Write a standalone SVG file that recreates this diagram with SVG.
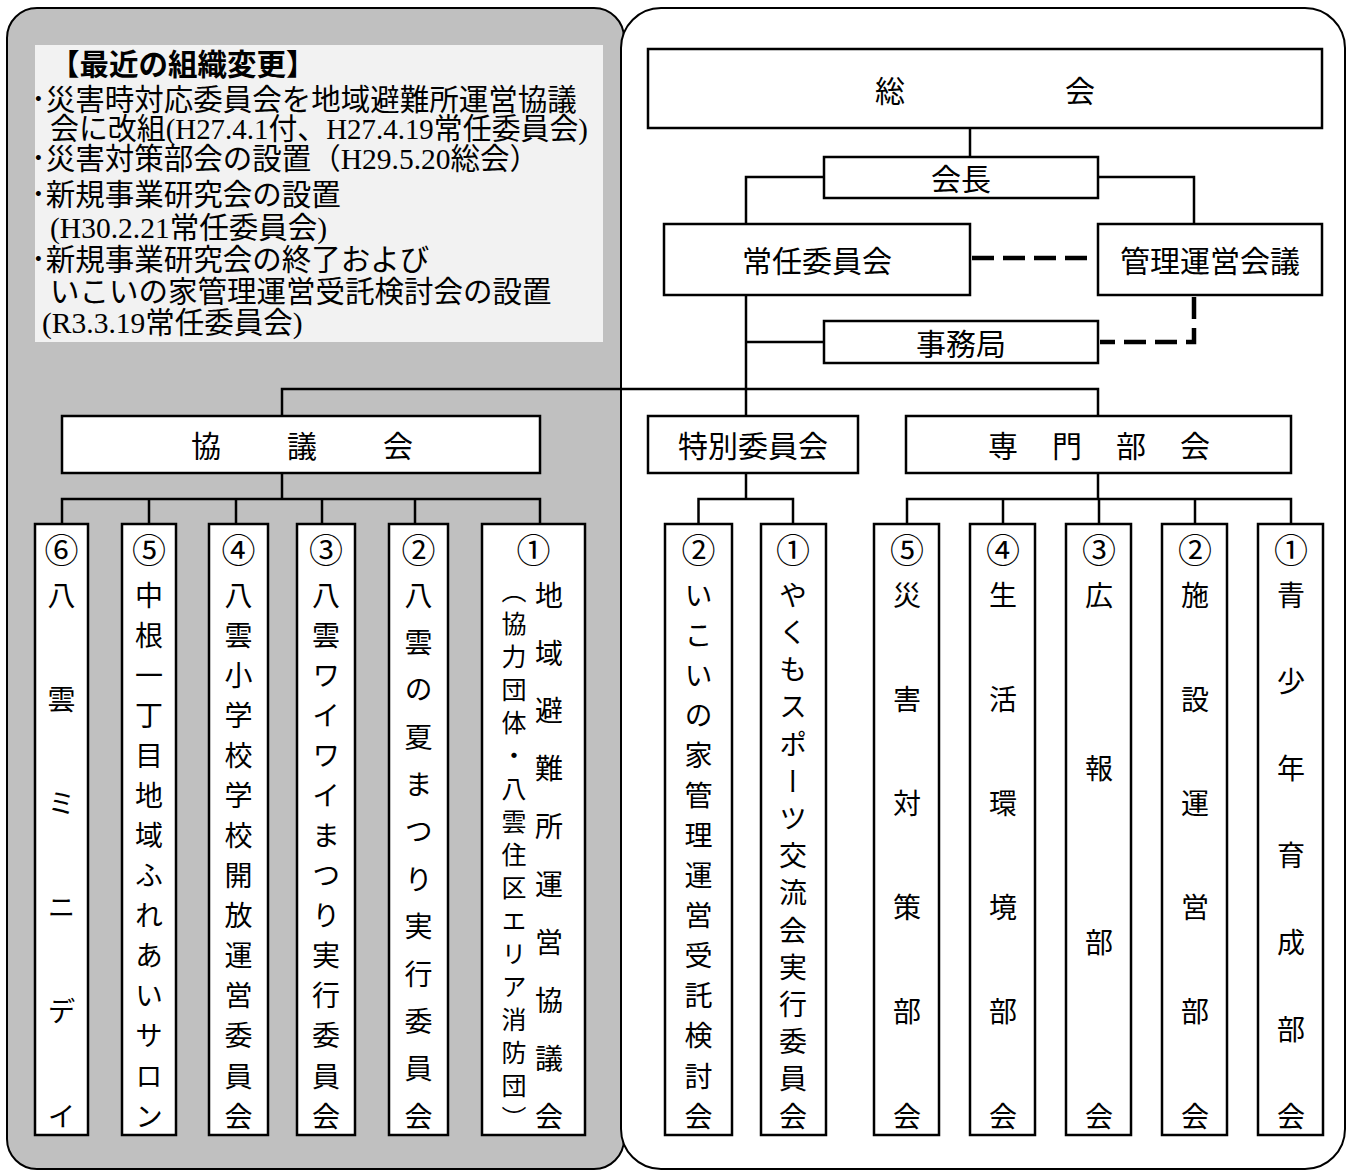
<svg xmlns="http://www.w3.org/2000/svg" width="1353" height="1172" viewBox="0 0 1353 1172">
<style>
.pl{stroke:#000;stroke-width:2}
.box{fill:#fff;stroke:#000;stroke-width:2.5}
.ln path{fill:none;stroke:#000;stroke-width:2.5}
.ln path.dash{stroke-width:4.5;stroke-dasharray:22 9}
.lbl{font-family:"Noto Sans CJK JP",sans-serif;font-size:30px;fill:#000;text-anchor:middle;dominant-baseline:central}
.num{font-family:"Noto Sans CJK JP",sans-serif;font-size:34px;fill:#000;text-anchor:middle;dominant-baseline:central}
.v{font-family:"Noto Sans CJK JP",sans-serif;font-size:28px;fill:#000;writing-mode:vertical-rl}
.vs{font-size:25px}
.note{font-family:"Liberation Serif","Noto Sans CJK JP",serif;font-size:29.5px;fill:#000}
</style>
<g id="panels">
<rect class="pl" x="7" y="8" width="617" height="1161" rx="30" fill="#c0c0c0"/>
<rect class="pl" x="621" y="8" width="724" height="1161" rx="40" fill="#fff"/>
</g>
<g id="note">
<rect x="35" y="45" width="568" height="297" fill="#f2f2f2"/>
<text class="note" x="50" y="75" font-weight="bold">【最近の組織変更】</text>
<text class="note" x="31" y="110">･災害時対応委員会を地域避難所運営協議</text>
<text class="note" x="50" y="139" textLength="538" lengthAdjust="spacingAndGlyphs">会に改組(H27.4.1付、H27.4.19常任委員会)</text>
<text class="note" x="31" y="169">･災害対策部会の設置（H29.5.20総会）</text>
<text class="note" x="31" y="205">･新規事業研究会の設置</text>
<text class="note" x="50" y="238">(H30.2.21常任委員会)</text>
<text class="note" x="31" y="270">･新規事業研究会の終了および</text>
<text class="note" x="50" y="302">いこいの家管理運営受託検討会の設置</text>
<text class="note" x="42" y="333">(R3.3.19常任委員会)</text>
</g>
<g id="connectors" class="ln">
<path d="M970 128V157"/>
<path d="M824 177H746V224"/>
<path d="M1098 177H1194V224"/>
<path d="M746 295V416"/>
<path d="M746 342H824"/>
<path d="M282 416V389H1098V416"/>
<path d="M282 473V499"/>
<path d="M62 524V499H540V524"/>
<path d="M149 499V524M236 499V524M322 499V524M415 499V524"/>
<path d="M746 473V499"/>
<path d="M698.5 524V499H793V524"/>
<path d="M1098 473V499"/>
<path d="M907 524V499H1291V524"/>
<path d="M1003 499V524M1099 499V524M1195 499V524"/>
<path class="dash" d="M972 258H1096"/>
<path class="dash" d="M1194 297V342H1100"/>
</g>
<g id="soukai"><rect class="box" x="648" y="49" width="674" height="79"/><text class="lbl" x="875" y="89" style="text-anchor:start;letter-spacing:1.67px">総　　　　　会</text></g>
<g id="kaicho"><rect class="box" x="824" y="157" width="274" height="41"/><text class="lbl" x="961" y="177">会長</text></g>
<g id="joninn"><rect class="box" x="664" y="224" width="306" height="71"/><text class="lbl" x="817" y="259">常任委員会</text></g>
<g id="kanri"><rect class="box" x="1098" y="224" width="224" height="71"/><text class="lbl" x="1210" y="259">管理運営会議</text></g>
<g id="jimukyoku"><rect class="box" x="824" y="321" width="274" height="42"/><text class="lbl" x="961" y="342">事務局</text></g>
<g id="kyogikai"><rect class="box" x="62" y="416" width="478" height="57"/><text class="lbl" x="191" y="444" style="text-anchor:start;letter-spacing:2px">協　　議　　会</text></g>
<g id="tokubetsu"><rect class="box" x="648" y="416" width="210" height="57"/><text class="lbl" x="753" y="444">特別委員会</text></g>
<g id="senmon"><rect class="box" x="906" y="416" width="385" height="57"/><text class="lbl" x="988" y="444" style="text-anchor:start;letter-spacing:2px">専　門　部　会</text></g>

<g id="k6"><rect class="box" x="35" y="524" width="53" height="611"/><text class="num" x="61.5" y="548">⑥</text><text class="v" x="61.5" y="581 685.2 789.4 893.6 997.8 1102">八雲ミニデイ</text></g>
<g id="k5"><rect class="box" x="122" y="524" width="54" height="611"/><text class="num" x="149" y="548">⑤</text><text class="v" x="149" y="581 621.1 661.2 701.2 741.3 781.4 821.5 861.5 901.6 941.7 981.8 1021.8 1061.9 1102">中根一丁目地域ふれあいサロン</text></g>
<g id="k4"><rect class="box" x="209" y="524" width="59" height="611"/><text class="num" x="238.5" y="548">④</text><text class="v" x="238.5" y="581 621.1 661.2 701.2 741.3 781.4 821.5 861.5 901.6 941.7 981.8 1021.8 1061.9 1102">八雲小学校学校開放運営委員会</text></g>
<g id="k3"><rect class="box" x="297" y="524" width="58" height="611"/><text class="num" x="326" y="548">③</text><text class="v" x="326" y="581 621.1 661.2 701.2 741.3 781.4 821.5 861.5 901.6 941.7 981.8 1021.8 1061.9 1102">八雲ワイワイまつり実行委員会</text></g>
<g id="k2"><rect class="box" x="389" y="524" width="59" height="611"/><text class="num" x="418.5" y="548">②</text><text class="v" x="418.5" y="581 628.4 675.7 723.1 770.5 817.8 865.2 912.5 959.9 1007.3 1054.6 1102">八雲の夏まつり実行委員会</text></g>
<g id="k1"><rect class="box" x="482" y="524" width="103" height="611"/><text class="num" x="533.5" y="548">①</text><text class="v" x="549" y="581 638.9 696.8 754.7 812.6 870.4 928.3 986.2 1044.1 1102">地域避難所運営協議会</text><text class="v vs" x="514" y="577.5 610.5 643.5 676.5 709.5 742.5 775.5 808.5 841.5 874.5 907.5 940.5 973.5 1006.5 1039.5 1072.5 1105.5">（協力団体・八雲住区エリア消防団）</text></g>

<g id="t2"><rect class="box" x="665" y="524" width="67" height="611"/><text class="num" x="698.5" y="548">②</text><text class="v" x="698.5" y="581 621.1 661.2 701.2 741.3 781.4 821.5 861.5 901.6 941.7 981.8 1021.8 1061.9 1102">いこいの家管理運営受託検討会</text></g>
<g id="t1"><rect class="box" x="761" y="524" width="65" height="611"/><text class="num" x="793" y="548">①</text><text class="v" x="793" y="581 618.2 655.4 692.6 729.9 767.1 804.3 841.5 878.7 915.9 953.1 990.4 1027.6 1064.8 1102">やくもスポーツ交流会実行委員会</text></g>

<g id="s5"><rect class="box" x="874" y="524" width="65" height="611"/><text class="num" x="907" y="548">⑤</text><text class="v" x="907" y="581 685.2 789.4 893.6 997.8 1102">災害対策部会</text></g>
<g id="s4"><rect class="box" x="970" y="524" width="65" height="611"/><text class="num" x="1003" y="548">④</text><text class="v" x="1003" y="581 685.2 789.4 893.6 997.8 1102">生活環境部会</text></g>
<g id="s3"><rect class="box" x="1066" y="524" width="65" height="611"/><text class="num" x="1099" y="548">③</text><text class="v" x="1099" y="581 754.7 928.3 1102">広報部会</text></g>
<g id="s2"><rect class="box" x="1162" y="524" width="65" height="611"/><text class="num" x="1195" y="548">②</text><text class="v" x="1195" y="581 685.2 789.4 893.6 997.8 1102">施設運営部会</text></g>
<g id="s1"><rect class="box" x="1258" y="524" width="65" height="611"/><text class="num" x="1291" y="548">①</text><text class="v" x="1291" y="581 667.8 754.7 841.5 928.3 1015.2 1102">青少年育成部会</text></g>
</svg>
